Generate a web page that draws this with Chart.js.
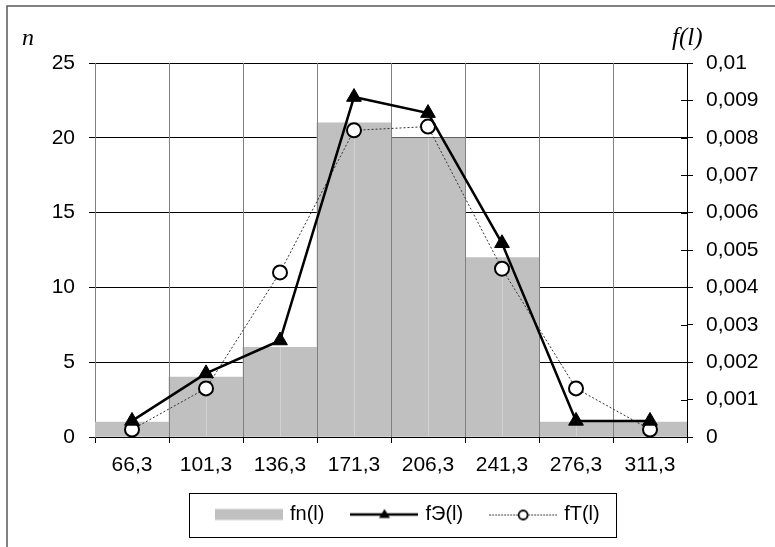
<!DOCTYPE html>
<html>
<head>
<meta charset="utf-8">
<script src="https://cdn.jsdelivr.net/npm/chart.js@4/dist/chart.umd.min.js"></script>
<style>
  html, body { margin: 0; padding: 0; background: #fff; overflow: hidden; }
  #wrap { width: 775px; height: 547px; }
</style>
</head>
<body>
<div id="wrap"><canvas id="histChart" width="775" height="547"></canvas></div>
<script>
// data
var categories = ['66,3', '101,3', '136,3', '171,3', '206,3', '241,3', '276,3', '311,3'];
var fnValues = [1, 4, 6, 21, 20, 12, 1, 1];
var fEValues = [0.00043, 0.00170, 0.00258, 0.00909, 0.00866, 0.00518, 0.00043, 0.00043];
var fTValues = [0.00020, 0.00130, 0.00440, 0.00820, 0.00830, 0.00450, 0.00130, 0.00020];
var leftTicks = { min: 0, max: 25, step: 5 };
var rightTicks = { min: 0, max: 0.01, step: 0.001 };

var FONT = "'Liberation Sans', Arial, sans-serif";
var LEGEND_PAD = 29;

// little pictures for the legend symbols
function makeSymbol(kind) {
    var c = document.createElement('canvas');
    c.width = 68; c.height = 16;
    var g = c.getContext('2d');
    if (kind === 'bar') {
        g.fillStyle = '#c0c0c0';
        g.fillRect(0, 2.5, 68, 11);
    } else if (kind === 'tri') {
        g.strokeStyle = '#000'; g.lineWidth = 2.5;
        g.beginPath(); g.moveTo(0, 8); g.lineTo(68, 8); g.stroke();
        g.fillStyle = '#000';
        g.beginPath(); g.moveTo(34, 2.5); g.lineTo(39.5, 11.5); g.lineTo(28.5, 11.5); g.closePath(); g.fill();
    } else {
        g.strokeStyle = '#444'; g.lineWidth = 1; g.setLineDash([2, 1]);
        g.beginPath(); g.moveTo(0, 8.5); g.lineTo(68, 8.5); g.stroke();
        g.setLineDash([]);
        g.fillStyle = '#fff'; g.lineWidth = 1.8; g.strokeStyle = '#000';
        g.beginPath(); g.arc(34, 8.5, 4.5, 0, Math.PI * 2); g.fill(); g.stroke();
    }
    return c;
}
var legendSymbols = [makeSymbol('bar'), makeSymbol('tri'), makeSymbol('circ')];

function commaNum(v) {
    var r = Math.round(v * 10000) / 10000;
    return String(r).replace('.', ',');
}

// frame, axis titles, grid over the bars, legend box
var decorPlugin = {
    id: 'decor',
    beforeDraw: function (chart) {
        var ctx = chart.ctx;
        ctx.save();
        ctx.fillStyle = '#fff';
        ctx.fillRect(0, 0, chart.width, chart.height);
        ctx.restore();
    },
    afterLayout: function (chart) {
        // move the legend where it sits in the original
        var lg = chart.legend;
        if (!lg || !lg.lineWidths) return;
        var newTop = 514.5 - 10 - LEGEND_PAD;
        lg.bottom += newTop - lg.top;
        lg.top = newTop;
        var x0 = (lg.left + LEGEND_PAD + lg.right - lg.lineWidths[0]) / 2;
        var dx = 218 - x0;
        lg.left += dx;
        lg.right += dx;
    },
    afterDatasetDraw: function (chart, args) {
        if (args.index !== 0) return;
        var ctx = chart.ctx, area = chart.chartArea;
        var n = categories.length;
        var w = (area.right - area.left) / n;
        ctx.save();
        // light line down the middle of each bar
        ctx.strokeStyle = '#d2d2d2';
        ctx.lineWidth = 1;
        args.meta.data.forEach(function (bar) {
            ctx.beginPath();
            ctx.moveTo(Math.round(bar.x) + 0.5, bar.y);
            ctx.lineTo(Math.round(bar.x) + 0.5, bar.base);
            ctx.stroke();
        });
        // vertical grid lines
        ctx.strokeStyle = '#808080';
        for (var k = 1; k < n; k++) {
            var x = Math.round(area.left + k * w) + 0.5;
            ctx.beginPath();
            ctx.moveTo(x, area.top);
            ctx.lineTo(x, area.bottom);
            ctx.stroke();
        }
        ctx.restore();
    },
    afterDraw: function (chart) {
        var ctx = chart.ctx, area = chart.chartArea;
        var y1 = chart.scales.y1;
        ctx.save();
        // right axis tick marks inside the plot
        ctx.strokeStyle = '#000';
        ctx.lineWidth = 1;
        y1.ticks.forEach(function (t) {
            var y = Math.round(y1.getPixelForValue(t.value)) + 0.5;
            ctx.beginPath();
            ctx.moveTo(area.right - 6, y);
            ctx.lineTo(area.right, y);
            ctx.stroke();
        });
        // outer frame (top and left only)
        ctx.strokeStyle = '#5a5a5a';
        ctx.lineWidth = 1.5;
        ctx.beginPath();
        ctx.moveTo(7, chart.height);
        ctx.lineTo(7, 6);
        ctx.lineTo(chart.width, 6);
        ctx.stroke();
        // axis titles
        ctx.fillStyle = '#000';
        ctx.font = "italic 24px 'Liberation Serif', 'Times New Roman', serif";
        ctx.textBaseline = 'alphabetic';
        ctx.textAlign = 'left';
        ctx.fillText('n', 22, 45);
        ctx.font = "italic 25px 'Liberation Serif', 'Times New Roman', serif";
        ctx.fillText('f(l)', 672, 45);
        // legend box
        var boxes = chart.legend.legendHitBoxes;
        if (boxes && boxes.length) {
            var first = boxes[0], last = boxes[boxes.length - 1];
            var cy = first.top + first.height / 2;
            var left = Math.round(first.left - 29) + 0.5;
            var right = Math.round(last.left + last.width + 16) + 0.5;
            ctx.strokeStyle = '#000';
            ctx.lineWidth = 1;
            ctx.strokeRect(left, Math.round(cy - 22) + 0.5, right - left, 44);
        }
        ctx.restore();
    }
};

var ctxHist = document.getElementById('histChart').getContext('2d');
var histChart = new Chart(ctxHist, {
    type: 'bar',
    data: {
        labels: categories,
        datasets: [{
            label: 'fn(l)',
            data: fnValues,
            backgroundColor: '#c0c0c0',
            borderWidth: 0,
            barPercentage: 1,
            categoryPercentage: 1,
            yAxisID: 'y',
            order: 3
        }, {
            type: 'line',
            label: 'f\u042D(l)',
            data: fEValues,
            borderColor: '#000',
            borderWidth: 2.5,
            pointStyle: 'triangle',
            pointRadius: 8.5,
            pointBackgroundColor: '#000',
            pointBorderColor: '#000',
            pointBorderWidth: 1,
            tension: 0,
            fill: false,
            yAxisID: 'y1',
            order: 1
        }, {
            type: 'line',
            label: 'fT(l)',
            data: fTValues,
            borderColor: '#333',
            borderWidth: 1,
            borderDash: [2, 2],
            pointStyle: 'circle',
            pointRadius: 7,
            pointBackgroundColor: '#fff',
            pointBorderColor: '#000',
            pointBorderWidth: 2,
            tension: 0,
            fill: false,
            yAxisID: 'y1',
            order: 2
        }]
    },
    options: {
        responsive: false,
        animation: false,
        events: [],
        layout: {
            padding: { left: 38, right: 5, top: 63, bottom: 6 }
        },
        plugins: {
            tooltip: { enabled: false },
            legend: {
                position: 'bottom',
                labels: {
                    usePointStyle: true,
                    pointStyleWidth: 62,
                    boxHeight: 16,
                    padding: LEGEND_PAD,
                    color: '#000',
                    font: { family: FONT, size: 20 },
                    generateLabels: function (chart) {
                        var items = Chart.defaults.plugins.legend.labels.generateLabels(chart);
                        items.sort(function (a, b) { return a.datasetIndex - b.datasetIndex; });
                        items.forEach(function (it) {
                            it.pointStyle = legendSymbols[it.datasetIndex];
                        });
                        return items;
                    }
                }
            }
        },
        scales: {
            x: {
                offset: true,
                grid: { drawOnChartArea: false, drawTicks: true, tickLength: 6, color: '#000' },
                border: { color: '#000', width: 1 },
                ticks: { color: '#000', font: { family: FONT, size: 21 }, padding: 10, maxRotation: 0 },
                afterFit: function (scale) { scale.height = 45; }
            },
            y: {
                position: 'left',
                min: leftTicks.min,
                max: leftTicks.max,
                grid: { color: '#000', lineWidth: 1, tickLength: 6 },
                border: { color: '#808080', width: 1 },
                ticks: { stepSize: leftTicks.step, color: '#000', font: { family: FONT, size: 21 }, padding: 14 },
                afterFit: function (scale) { scale.width = 57; }
            },
            y1: {
                position: 'right',
                min: rightTicks.min,
                max: rightTicks.max,
                grid: { drawOnChartArea: false, color: '#000', tickLength: 6 },
                border: { color: '#000', width: 1 },
                ticks: {
                    stepSize: rightTicks.step,
                    color: '#000',
                    font: { family: FONT, size: 21 },
                    padding: 13,
                    callback: function (v) { return commaNum(v); }
                },
                afterFit: function (scale) { scale.width = 83; }
            }
        }
    },
    plugins: [decorPlugin]
});
</script>
</body>
</html>
